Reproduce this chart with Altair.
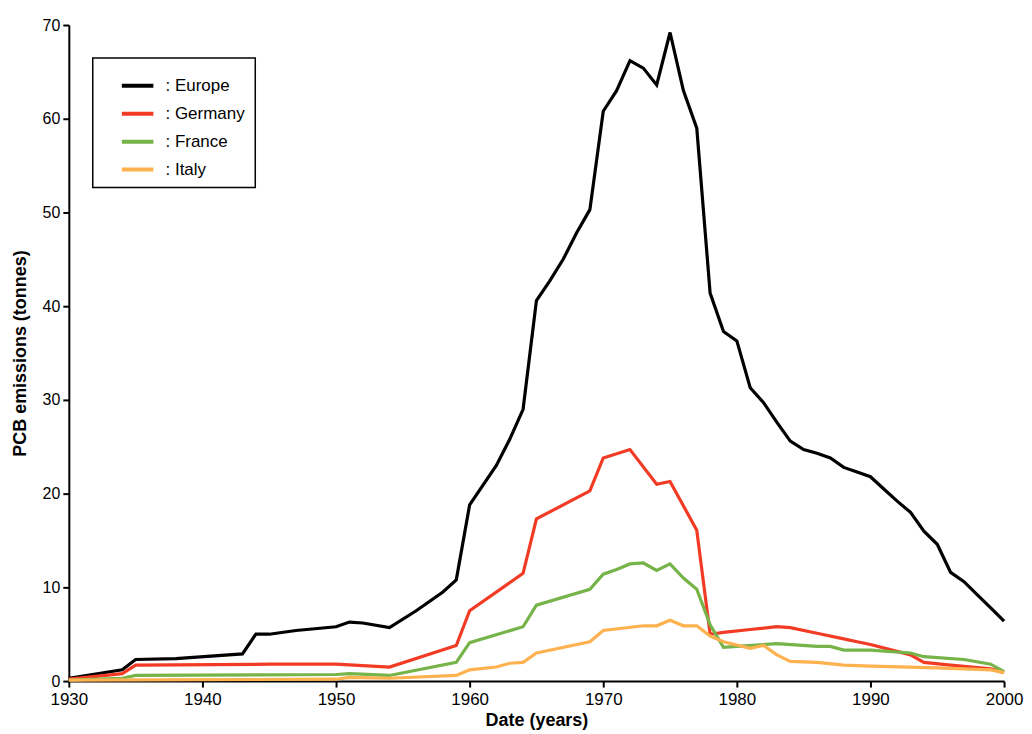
import altair as alt
import pandas as pd

europe_years = [1930, 1934, 1935, 1938, 1943, 1944, 1945, 1947, 1950, 1951, 1952, 1954, 1956, 1958, 1959,
                1960, 1962, 1963, 1964, 1965, 1966, 1967, 1968, 1969, 1970, 1971, 1972, 1973, 1974, 1975,
                1976, 1977, 1978, 1979, 1980, 1981, 1982, 1983, 1984, 1985, 1986, 1987, 1988, 1989, 1990,
                1991, 1992, 1993, 1994, 1995, 1996, 1997, 1998, 1999, 2000]
europe_vals = [0.3, 1.2, 2.3, 2.4, 2.9, 5.0, 5.0, 5.4, 5.8, 6.3, 6.2, 5.7, 7.5, 9.5, 10.8,
               18.8, 23.0, 25.8, 29.0, 40.6, 42.7, 45.0, 47.8, 50.3, 60.8, 63.0, 66.2, 65.4, 63.6, 69.2,
               63.0, 59.0, 41.4, 37.3, 36.3, 31.3, 29.7, 27.6, 25.6, 24.7, 24.3, 23.8, 22.8, 22.3, 21.8,
               20.5, 19.2, 18.0, 16.0, 14.6, 11.6, 10.6, 9.2, 7.8, 6.4]

germany_years = [1930, 1934, 1935, 1945, 1950, 1954, 1959, 1960, 1964, 1965, 1969, 1970, 1972, 1974, 1975,
                 1977, 1978, 1979, 1981, 1983, 1984, 1986, 1988, 1989, 1990, 1993, 1994, 1996, 1999, 2000]
germany_vals = [0.2, 0.8, 1.7, 1.8, 1.8, 1.5, 3.8, 7.5, 11.5, 17.3, 20.3, 23.8, 24.7, 21.0, 21.3,
                16.1, 5.0, 5.2, 5.5, 5.8, 5.7, 5.1, 4.5, 4.2, 3.9, 2.8, 2.0, 1.7, 1.3, 0.9]

france_years = [1930, 1934, 1935, 1950, 1951, 1954, 1959, 1960, 1964, 1965, 1969, 1970, 1971, 1972, 1973,
                1974, 1975, 1976, 1977, 1978, 1979, 1980, 1983, 1986, 1987, 1988, 1990, 1993, 1994, 1997,
                1999, 2000]
france_vals = [0.1, 0.3, 0.6, 0.7, 0.8, 0.6, 2.0, 4.1, 5.8, 8.1, 9.8, 11.4, 11.9, 12.5, 12.6,
               11.8, 12.5, 11.0, 9.8, 6.0, 3.6, 3.7, 4.0, 3.7, 3.7, 3.3, 3.3, 3.0, 2.6, 2.3,
               1.8, 1.0]

italy_years = [1930, 1950, 1951, 1954, 1959, 1960, 1962, 1963, 1964, 1965, 1969, 1970, 1973, 1974, 1975,
               1976, 1977, 1978, 1979, 1981, 1982, 1983, 1984, 1986, 1988, 1990, 1995, 1999, 2000]
italy_vals = [0.1, 0.2, 0.4, 0.3, 0.6, 1.2, 1.5, 1.9, 2.0, 3.0, 4.2, 5.4, 5.9, 5.9, 6.5,
              5.9, 5.9, 4.8, 4.2, 3.5, 3.8, 2.8, 2.1, 2.0, 1.7, 1.6, 1.4, 1.2, 0.9]

series_labels = [": Europe", ": Germany", ": France", " : Italy"]
series_colors = ["#000000", "#f23b24", "#76b349", "#fdb14f"]
x_ticks = [1930, 1940, 1950, 1960, 1970, 1980, 1990, 2000]
y_ticks = [0, 10, 20, 30, 40, 50, 60, 70]

rows = []
for lab, ys, vs in zip(series_labels,
                       [europe_years, germany_years, france_years, italy_years],
                       [europe_vals, germany_vals, france_vals, italy_vals]):
    for y, v in zip(ys, vs):
        rows.append({"series": lab, "year": y, "value": v})
df = pd.DataFrame(rows)

font = "Liberation Sans"

chart = alt.Chart(df).mark_line(strokeWidth=3.2, strokeJoin="miter").encode(
    x=alt.X("year:Q", title="Date (years)",
            scale=alt.Scale(domain=[1930, 2000], nice=False, zero=False),
            axis=alt.Axis(values=x_ticks, format="d", labelFlush=False,
                          grid=False, labelFontSize=17, titleFontSize=18, titleFontWeight="bold",
                          titlePadding=5, labelPadding=4)),
    y=alt.Y("value:Q", title="PCB emissions (tonnes)",
            scale=alt.Scale(domain=[0, 70], nice=False),
            axis=alt.Axis(values=y_ticks, grid=False,
                          labelFontSize=16, titleFontSize=18, titleFontWeight="bold",
                          titlePadding=13, labelPadding=3)),
    color=alt.Color("series:N", sort=series_labels,
                    scale=alt.Scale(domain=series_labels, range=series_colors),
                    legend=alt.Legend(title=None, orient="none", legendX=24, legendY=33,
                                      symbolType="stroke", symbolSize=1000, symbolStrokeWidth=4,
                                      symbolOffset=17,
                                      labelFontSize=17, labelFont=font, labelColor="black",
                                      strokeColor="black", padding=10, rowPadding=2,
                                      labelOffset=10, labelLimit=300)),
    order="year:Q",
).properties(
    width=938, height=658,
    padding={"left": 61, "top": 16, "right": 20, "bottom": 50},
    autosize=alt.AutoSizeParams(type="none"),
).configure_view(stroke=None).configure_axis(
    labelFont=font, titleFont=font, labelColor="black", titleColor="black",
    domainColor="black", domainWidth=2, tickColor="black", tickWidth=2, tickSize=6,
).configure_legend(strokeWidth=1.5)

chart.save("out.html", embed_options={"renderer": "svg", "actions": False})
